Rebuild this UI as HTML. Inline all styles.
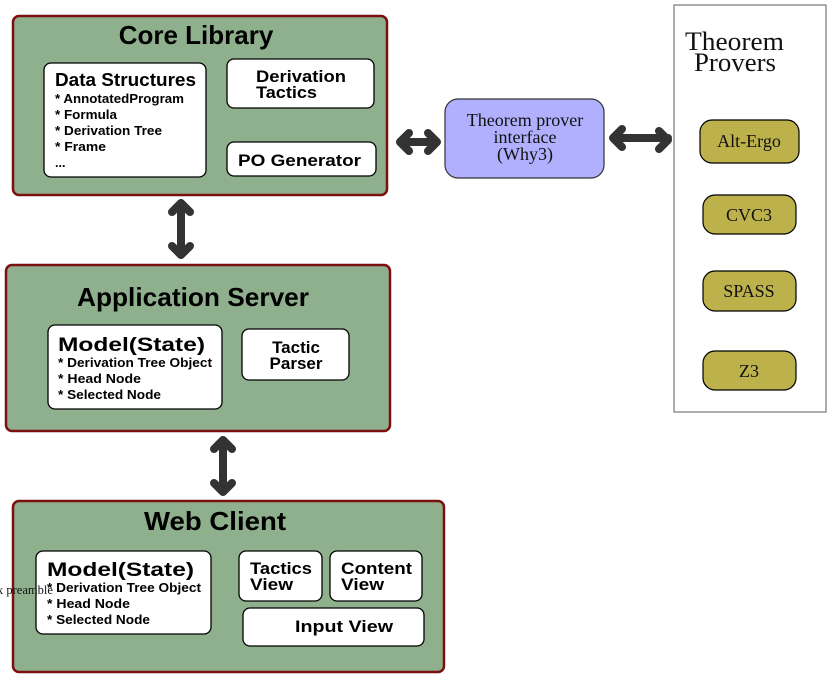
<!DOCTYPE html>
<html><head><meta charset="utf-8"><style>
html,body{margin:0;padding:0;background:#fff;}
svg{display:block;}
.t{font-family:"Liberation Sans",sans-serif;font-weight:bold;fill:#000;}
.s{font-family:"Liberation Serif",serif;fill:#111;}
.g{fill:#8fb08c;stroke:#7a1010;stroke-width:2.5;}
.w{fill:#fff;stroke:#000;stroke-width:1.3;}
.y{fill:#bdb14c;stroke:#000;stroke-width:1.2;}
.a{stroke:#333;stroke-width:8;stroke-linecap:round;stroke-linejoin:round;fill:none;}
</style></head><body>
<svg width="831" height="678" viewBox="0 0 831 678" xmlns="http://www.w3.org/2000/svg">
<!-- Core Library -->
<rect class="g" x="13" y="16" width="374" height="179" rx="6"/>
<text class="t" x="196" y="44" font-size="26" text-anchor="middle">Core Library</text>
<rect class="w" x="44" y="63" width="162" height="114" rx="7"/>
<text class="t" x="55" y="86" font-size="18" textLength="141" lengthAdjust="spacingAndGlyphs">Data Structures</text>
<text class="t" x="55" y="103" font-size="12.5" textLength="129" lengthAdjust="spacingAndGlyphs">* AnnotatedProgram</text>
<text class="t" x="55" y="119" font-size="12.5" textLength="62" lengthAdjust="spacingAndGlyphs">* Formula</text>
<text class="t" x="55" y="135" font-size="12.5" textLength="107" lengthAdjust="spacingAndGlyphs">* Derivation Tree</text>
<text class="t" x="55" y="151" font-size="12.5" textLength="51" lengthAdjust="spacingAndGlyphs">* Frame</text>
<text class="t" x="55" y="167" font-size="12.5">...</text>
<rect class="w" x="227" y="59" width="147" height="49" rx="7"/>
<text class="t" x="256" y="82" font-size="17" textLength="90" lengthAdjust="spacingAndGlyphs">Derivation</text>
<text class="t" x="256" y="98" font-size="17" textLength="61" lengthAdjust="spacingAndGlyphs">Tactics</text>
<rect class="w" x="227" y="142" width="149" height="34" rx="7"/>
<text class="t" x="238" y="166" font-size="17" textLength="123" lengthAdjust="spacingAndGlyphs">PO Generator</text>

<!-- interface -->
<rect x="445" y="99" width="159" height="79" rx="13" fill="#b0b0ff" stroke="#333" stroke-width="1.2"/>
<text class="s" x="525" y="126" font-size="18" text-anchor="middle">Theorem prover</text>
<text class="s" x="525" y="143" font-size="18" text-anchor="middle">interface</text>
<text class="s" x="525" y="160" font-size="18" text-anchor="middle">(Why3)</text>

<!-- provers -->
<rect x="674" y="5" width="152" height="407" fill="#fff" stroke="#777" stroke-width="1.2"/>
<text class="s" x="685" y="50" font-size="26" textLength="99" lengthAdjust="spacingAndGlyphs">Theorem</text>
<text class="s" x="694" y="71" font-size="26" textLength="82" lengthAdjust="spacingAndGlyphs">Provers</text>
<rect class="y" x="700" y="120" width="99" height="43" rx="12"/>
<text class="s" x="749" y="147" font-size="18" text-anchor="middle">Alt-Ergo</text>
<rect class="y" x="703" y="195" width="93" height="39" rx="12"/>
<text class="s" x="749" y="221" font-size="18" text-anchor="middle">CVC3</text>
<rect class="y" x="703" y="271" width="93" height="40" rx="12"/>
<text class="s" x="749" y="297" font-size="18" text-anchor="middle">SPASS</text>
<rect class="y" x="703" y="351" width="93" height="39" rx="12"/>
<text class="s" x="749" y="377" font-size="18" text-anchor="middle">Z3</text>

<!-- arrows -->
<path class="a" d="M400 142 H437 M409 133 L400 142 L409 151 M428 133 L437 142 L428 151"/>
<path class="a" d="M613 138 H668 M622 129 L613 138 L622 147 M659 131 L668 140 L659 149"/>
<path class="a" d="M181 203 V255 M172 212 L181 203 L190 212 M172 246 L181 255 L190 246"/>
<path class="a" d="M223 440 V492 M214 449 L223 440 L232 449 M214 483 L223 492 L232 483"/>

<!-- App server -->
<rect class="g" x="6" y="265" width="384" height="166" rx="6"/>
<text class="t" x="193" y="306" font-size="26" text-anchor="middle" textLength="232" lengthAdjust="spacingAndGlyphs">Application Server</text>
<rect class="w" x="48" y="325" width="174" height="84" rx="7"/>
<text class="t" x="58" y="351" font-size="19" textLength="147" lengthAdjust="spacingAndGlyphs">Model(State)</text>
<text class="t" x="58" y="367" font-size="12.5" textLength="154" lengthAdjust="spacingAndGlyphs">* Derivation Tree Object</text>
<text class="t" x="58" y="383" font-size="12.5" textLength="83" lengthAdjust="spacingAndGlyphs">* Head Node</text>
<text class="t" x="58" y="399" font-size="12.5" textLength="103" lengthAdjust="spacingAndGlyphs">* Selected Node</text>
<rect class="w" x="242" y="329" width="107" height="51" rx="7"/>
<text class="t" x="296" y="353" font-size="17" text-anchor="middle">Tactic</text>
<text class="t" x="296" y="369" font-size="17" text-anchor="middle">Parser</text>

<!-- Web client -->
<rect class="g" x="13" y="501" width="431" height="171" rx="6"/>
<text class="t" x="215" y="530" font-size="26" text-anchor="middle" textLength="142" lengthAdjust="spacingAndGlyphs">Web Client</text>
<rect class="w" x="36" y="551" width="175" height="83" rx="7"/>
<text class="t" x="47" y="576" font-size="19" textLength="147" lengthAdjust="spacingAndGlyphs">Model(State)</text>
<text class="t" x="47" y="592" font-size="12.5" textLength="154" lengthAdjust="spacingAndGlyphs">* Derivation Tree Object</text>
<text class="t" x="47" y="608" font-size="12.5" textLength="83" lengthAdjust="spacingAndGlyphs">* Head Node</text>
<text class="t" x="47" y="624" font-size="12.5" textLength="103" lengthAdjust="spacingAndGlyphs">* Selected Node</text>
<rect class="w" x="239" y="551" width="83" height="50" rx="7"/>
<text class="t" x="250" y="574" font-size="17" textLength="62" lengthAdjust="spacingAndGlyphs">Tactics</text>
<text class="t" x="250" y="590" font-size="17" textLength="43" lengthAdjust="spacingAndGlyphs">View</text>
<rect class="w" x="330" y="551" width="92" height="50" rx="7"/>
<text class="t" x="341" y="574" font-size="17" textLength="71" lengthAdjust="spacingAndGlyphs">Content</text>
<text class="t" x="341" y="590" font-size="17" textLength="43" lengthAdjust="spacingAndGlyphs">View</text>
<rect class="w" x="243" y="608" width="181" height="38" rx="7"/>
<text class="t" x="344" y="632" font-size="17" text-anchor="middle" textLength="98" lengthAdjust="spacingAndGlyphs">Input View</text>
<text class="s" x="-3" y="594" font-size="12.5">x preamble</text>
</svg>
</body></html>
